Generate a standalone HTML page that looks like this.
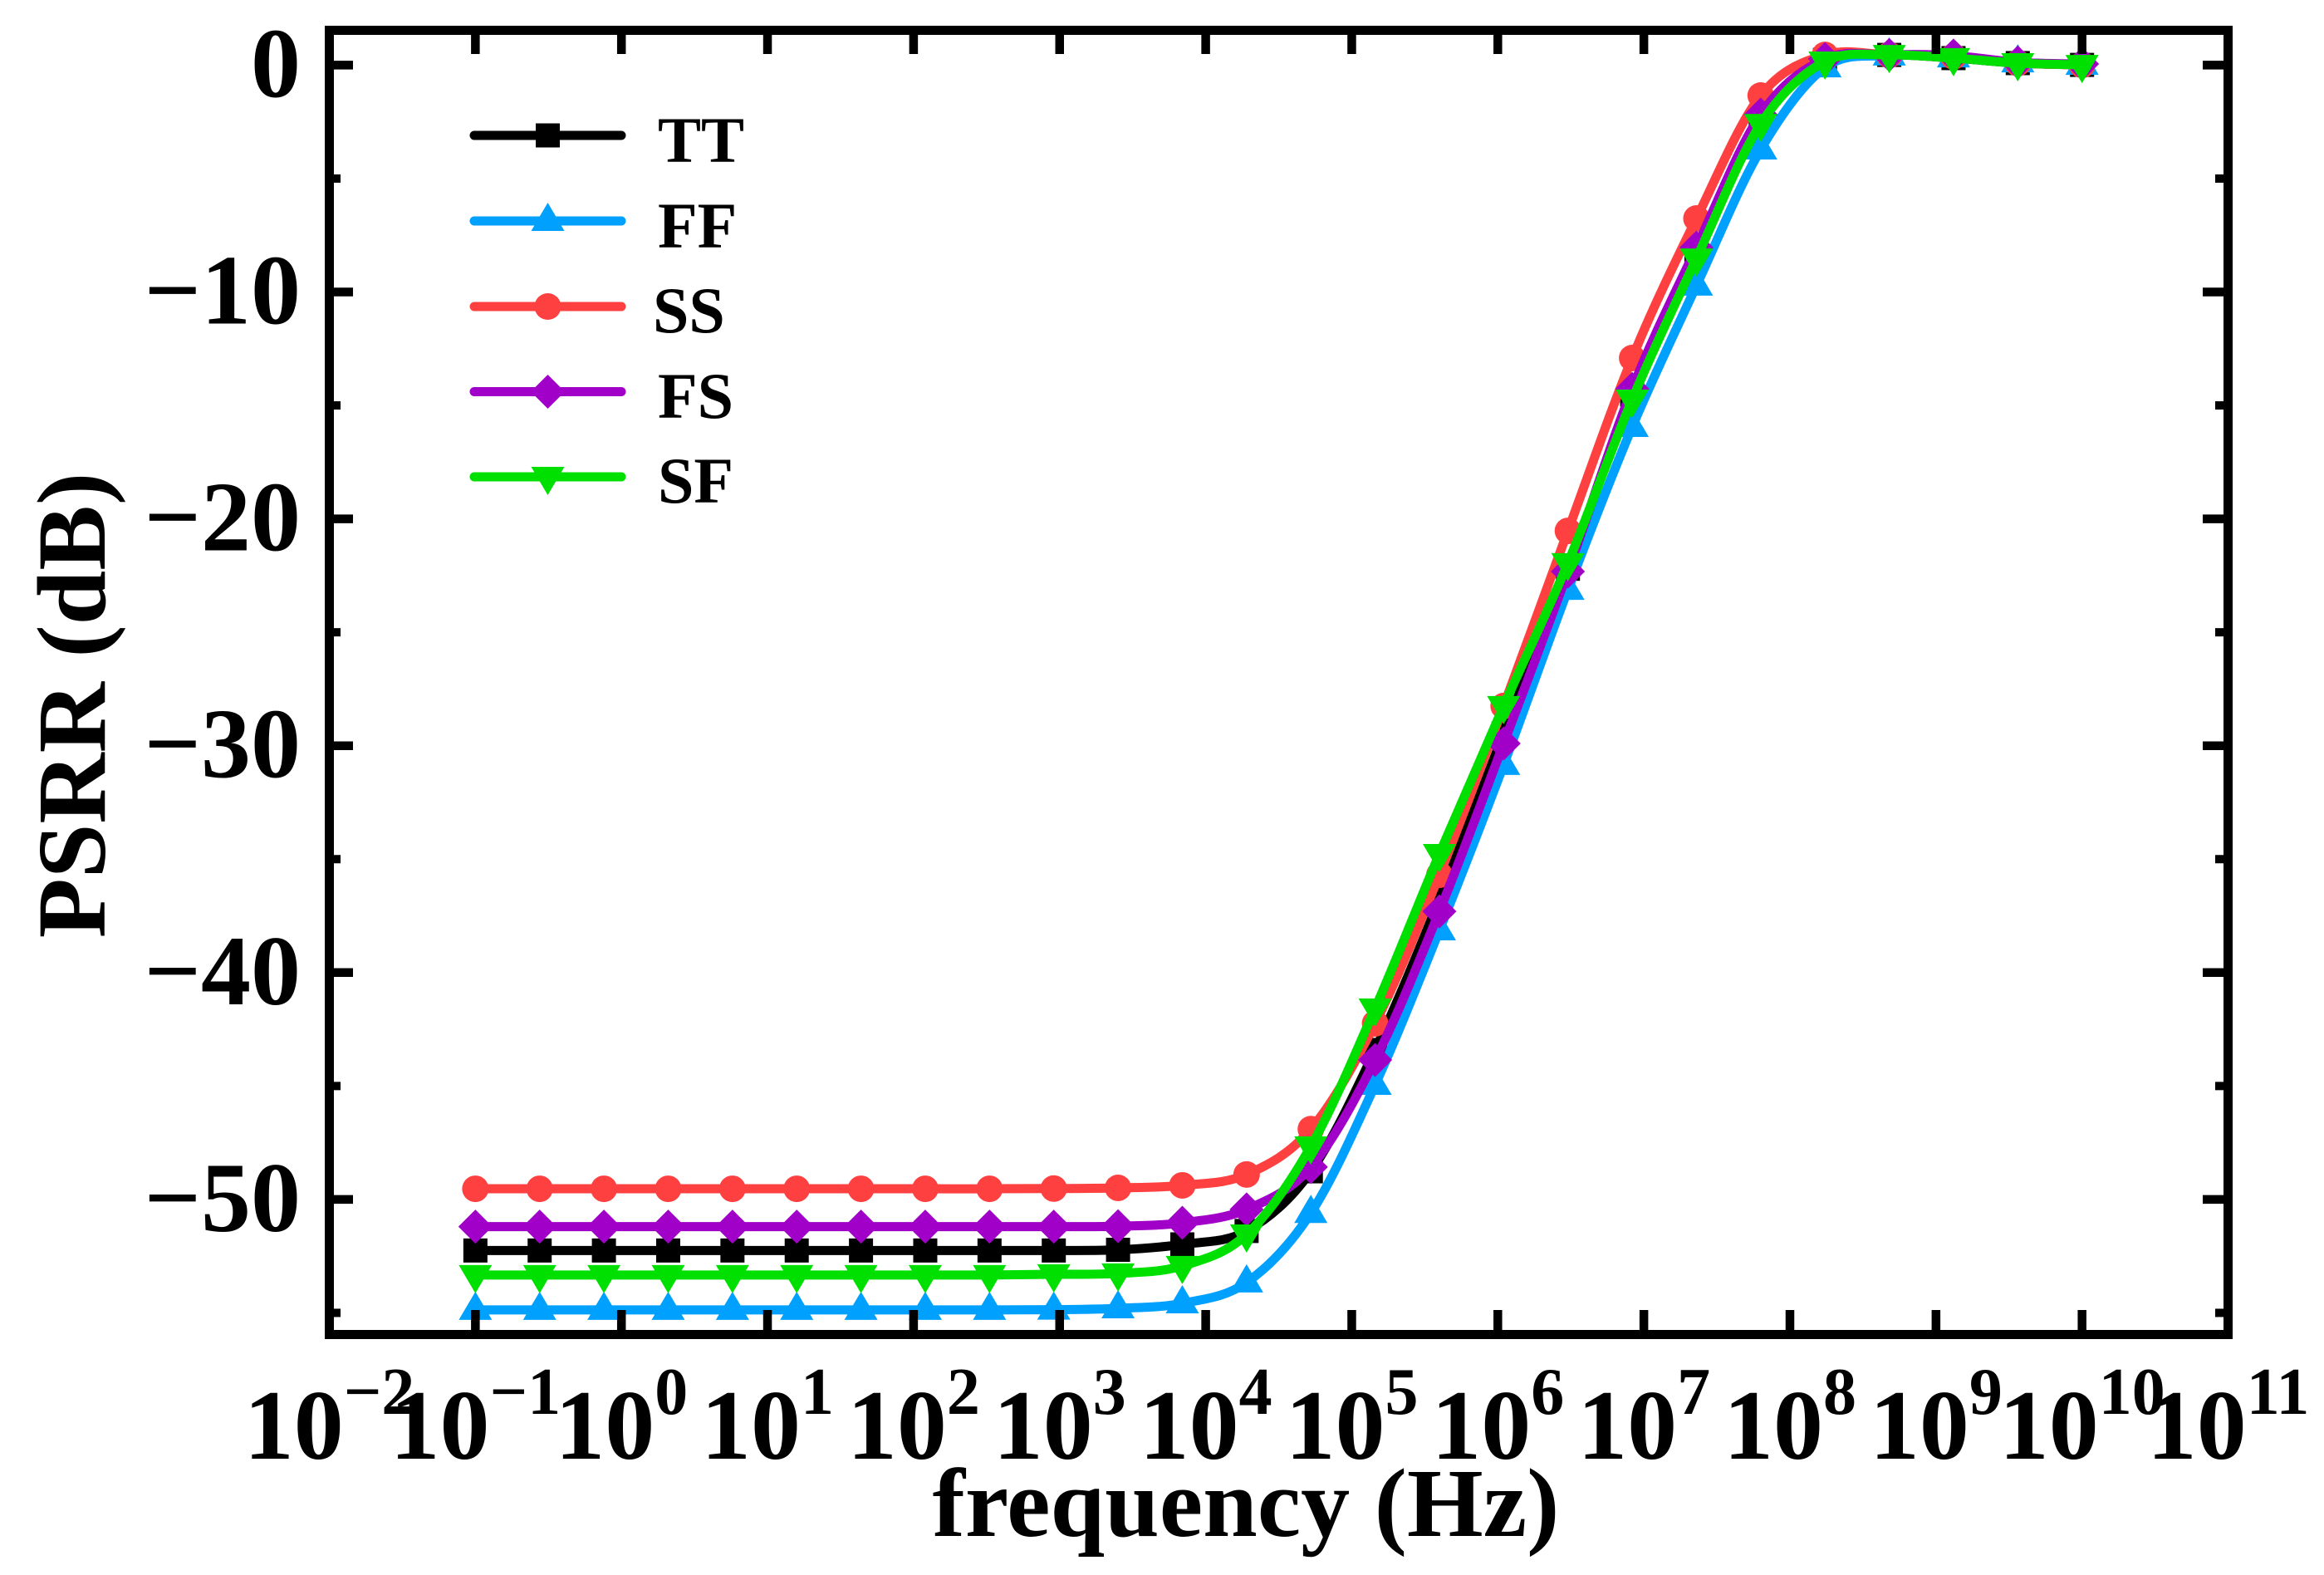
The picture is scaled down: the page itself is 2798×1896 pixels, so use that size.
<!DOCTYPE html>
<html lang="en">
<head>
<meta charset="utf-8">
<title>PSRR vs frequency</title>
<style>
html,body{margin:0;padding:0;background:#fff;width:2798px;height:1896px;overflow:hidden}
svg{display:block}
text{font-family:"Liberation Serif",serif;font-weight:bold;fill:#000}
</style>
</head>
<body>
<svg id="chart" xmlns="http://www.w3.org/2000/svg" width="2798" height="1896" viewBox="0 0 2798 1896">
  <g id="marks"></g>
  <g id="axes"></g>
  <rect x="396.5" y="36.5" width="2286" height="1570" fill="none" stroke="#000" stroke-width="11"/>
  <text x="1500" y="1849" font-size="118" text-anchor="middle">frequency (Hz)</text>
  <text transform="translate(126 849) rotate(-90)" font-size="118" text-anchor="middle">PSRR (dB)</text>
  <g>
    <g>
      <line x1="571" y1="163" x2="748" y2="163" stroke="#000000" stroke-width="11" stroke-linecap="round"/>
      <rect x="645" y="148.5" width="29" height="29" fill="#000000"/>
      <text x="792" y="195" font-size="78">TT</text>
    </g>
    <g>
      <line x1="571" y1="266" x2="748" y2="266" stroke="#00A0FF" stroke-width="11" stroke-linecap="round"/>
      <polygon points="659.5,244 679.5,278 639.5,278" fill="#00A0FF"/>
      <text x="792" y="298" font-size="78">FF</text>
    </g>
    <g>
      <line x1="571" y1="369" x2="748" y2="369" stroke="#FF4040" stroke-width="11" stroke-linecap="round"/>
      <circle cx="659.5" cy="369" r="16" fill="#FF4040"/>
      <text x="786" y="400" font-size="78">SS</text>
    </g>
    <g>
      <line x1="571" y1="471.5" x2="748" y2="471.5" stroke="#A000C8" stroke-width="11" stroke-linecap="round"/>
      <polygon points="659.5,451 680,471.5 659.5,492 639,471.5" fill="#A000C8"/>
      <text x="792" y="503" font-size="78">FS</text>
    </g>
    <g>
      <line x1="571" y1="574" x2="748" y2="574" stroke="#00E000" stroke-width="11" stroke-linecap="round"/>
      <polygon points="639.5,562 679.5,562 659.5,596" fill="#00E000"/>
      <text x="792" y="605" font-size="78">SF</text>
    </g>
  </g>
</svg>
<script>
var freqExponents = [-1,-0.56,-0.12,0.32,0.76,1.2,1.64,2.08,2.52,2.96,3.4,3.84,4.28,4.72,5.16,5.6,6.04,6.48,6.92,7.36,7.8,8.24,8.68,9.12,9.56,10];
var ttValues = [-52.25,-52.25,-52.25,-52.25,-52.25,-52.25,-52.25,-52.25,-52.25,-52.25,-52.22,-51.98,-51.39,-48.76,-43.41,-36.78,-29.46,-22.2,-14.52,-8.3,-2.44,0.23,0.45,0.31,0.09,0.01];
var ffValues = [-54.87,-54.87,-54.87,-54.87,-54.87,-54.87,-54.87,-54.87,-54.87,-54.86,-54.8,-54.58,-53.66,-50.6,-44.95,-38.14,-30.85,-23.13,-15.95,-9.72,-3.72,-0.1,0.42,0.34,0.12,0.01];
var ssValues = [-49.53,-49.53,-49.53,-49.53,-49.53,-49.53,-49.53,-49.53,-49.53,-49.52,-49.49,-49.38,-48.9,-46.9,-42.24,-35.69,-28.25,-20.53,-12.91,-6.76,-1.34,0.45,0.45,0.38,0.09,0.01];
var fsValues = [-51.2,-51.2,-51.2,-51.2,-51.2,-51.2,-51.2,-51.2,-51.2,-51.2,-51.18,-51.03,-50.44,-48.57,-43.85,-37.3,-29.9,-22.32,-14.27,-8.04,-2.18,0.27,0.45,0.42,0.12,0.05];
var sfValues = [-53.33,-53.33,-53.33,-53.33,-53.33,-53.33,-53.33,-53.33,-53.33,-53.3,-53.26,-52.93,-51.54,-47.66,-41.58,-34.77,-28.25,-21.95,-14.74,-8.52,-2.59,0.16,0.45,0.31,0.09,0.01];
var xTickExponents = [-2,-1,0,1,2,3,4,5,6,7,8,9,10,11];
var xTickLabels = ["\u22122","\u22121","0","1","2","3","4","5","6","7","8","9","10","11"];
var yMajorTicks = [0,-10,-20,-30,-40,-50];
var yMajorLabels = ["0","\u221210","\u221220","\u221230","\u221240","\u221250"];
var yMinorTicks = [-5,-15,-25,-35,-45,-55];

var NS = 'http://www.w3.org/2000/svg';
var marks = document.getElementById('marks');
var axes = document.getElementById('axes');

function xAxis(exponent) { return 396.5 + (exponent + 2) * 175.85; }
function yAxis(db) { return 78.4 - db * 27.31; }

function make(tag, parent, attrs) {
  var el = document.createElementNS(NS, tag);
  for (var k in attrs) { el.setAttribute(k, attrs[k]); }
  parent.appendChild(el);
  return el;
}

function smoothPath(pts) {
  var d = 'M' + pts[0][0].toFixed(2) + ' ' + pts[0][1].toFixed(2);
  for (var i = 0; i < pts.length - 1; i++) {
    var p0 = pts[Math.max(i - 1, 0)], p1 = pts[i], p2 = pts[i + 1], p3 = pts[Math.min(i + 2, pts.length - 1)];
    var c1x = p1[0] + (p2[0] - p0[0]) / 6, c1y = p1[1] + (p2[1] - p0[1]) / 6;
    var c2x = p2[0] - (p3[0] - p1[0]) / 6, c2y = p2[1] - (p3[1] - p1[1]) / 6;
    d += 'C' + c1x.toFixed(2) + ' ' + c1y.toFixed(2) + ' ' + c2x.toFixed(2) + ' ' + c2y.toFixed(2) + ' ' + p2[0].toFixed(2) + ' ' + p2[1].toFixed(2);
  }
  return d;
}

function drawMarker(parent, kind, x, y, color) {
  var el;
  if (kind === 'square') {
    el = make('rect', parent, {x: x - 14.5, y: y - 14.5, width: 29, height: 29, fill: color});
  } else if (kind === 'circle') {
    el = make('circle', parent, {cx: x, cy: y, r: 16, fill: color});
  } else if (kind === 'up') {
    el = make('polygon', parent, {points: x + ',' + (y - 22) + ' ' + (x + 20) + ',' + (y + 12) + ' ' + (x - 20) + ',' + (y + 12), fill: color});
  } else if (kind === 'down') {
    el = make('polygon', parent, {points: (x - 20) + ',' + (y - 12) + ' ' + (x + 20) + ',' + (y - 12) + ' ' + x + ',' + (y + 22), fill: color});
  } else {
    el = make('polygon', parent, {points: x + ',' + (y - 20.5) + ' ' + (x + 20.5) + ',' + y + ' ' + x + ',' + (y + 20.5) + ' ' + (x - 20.5) + ',' + y, fill: color});
  }
  return el;
}

function drawSeries(key, values, color, kind) {
  var g = make('g', marks, {});
  
  
  var pts = values.map(function (v, i) { return [xAxis(freqExponents[i]), yAxis(v)]; });
  var line = make('path', g, {d: smoothPath(pts), fill: 'none', stroke: color, 'stroke-width': 11, 'stroke-linejoin': 'round', 'stroke-linecap': 'round'});
  
  
  pts.forEach(function (p) {
    var m = drawMarker(g, kind, p[0], p[1], color);
    
    
  });
}

drawSeries('tt', ttValues, '#000000', 'square');
drawSeries('ff', ffValues, '#00A0FF', 'up');
drawSeries('ss', ssValues, '#FF4040', 'circle');
drawSeries('fs', fsValues, '#A000C8', 'diamond');
drawSeries('sf', sfValues, '#00E000', 'down');

function tick(x1, y1, x2, y2, width, name) {
  var t = make('line', axes, {x1: x1, y1: y1, x2: x2, y2: y2, stroke: '#000', 'stroke-width': width});
  
  
}

xTickExponents.forEach(function (e, i) {
  var x = xAxis(e);
  tick(x, 1606, x, 1577, 10.5, 'x-tick-bottom');
  tick(x, 37, x, 65, 10.5, 'x-tick-top');
  var label = make('text', axes, {x: x, y: 1756, 'font-size': 120, 'text-anchor': 'middle'});
  
  
  var base = make('tspan', label, {});
  base.textContent = '10';
  var sup = make('tspan', label, {'font-size': 80, dy: -54});
  sup.textContent = xTickLabels[i];
});

yMajorTicks.forEach(function (v, i) {
  var y = yAxis(v);
  tick(397, y, 425, y, 10.5, 'y-tick-left');
  tick(2682, y, 2652, y, 10.5, 'y-tick-right');
  var label = make('text', axes, {x: 362, y: y + 38, 'font-size': 120, 'text-anchor': 'end'});
  
  
  label.textContent = yMajorLabels[i];
});

yMinorTicks.forEach(function (v) {
  var y = yAxis(v);
  tick(397, y, 410, y, 10, 'y-minor-tick-left');
  tick(2682, y, 2667, y, 10, 'y-minor-tick-right');
});
</script>
</body>
</html>
